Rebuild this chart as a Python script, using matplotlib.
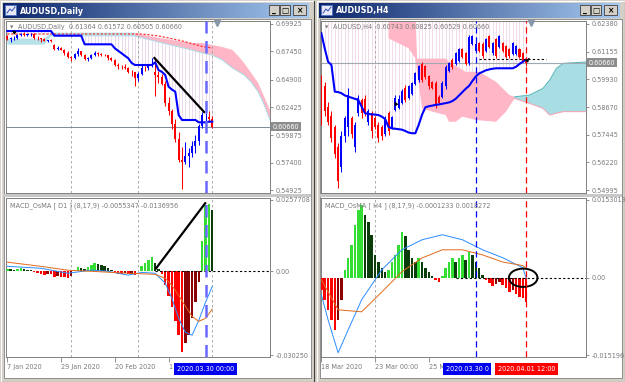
import numpy as np
import matplotlib.pyplot as plt
from matplotlib.patches import Rectangle, Ellipse
from matplotlib.colors import LinearSegmentedColormap
from matplotlib.transforms import blended_transform_factory

W, H = 625, 382

# ---------------- AUDUSD Daily (7 Jan 2020 .. 1 Apr 2020) ----------------
d_open = [0.6880, 0.6853, 0.6862, 0.6868, 0.6896, 0.6903, 0.6896, 0.6899, 0.6903, 0.6867,
          0.6862, 0.6855, 0.6840, 0.6845, 0.6800, 0.6767, 0.6772, 0.6760, 0.6730, 0.6690,
          0.6681, 0.6722, 0.6745, 0.6710, 0.6677, 0.6685, 0.6712, 0.6729, 0.6718, 0.6712,
          0.6710, 0.6684, 0.6667, 0.6622, 0.6605, 0.6600, 0.6595, 0.6561, 0.6555, 0.6508,
          0.6542, 0.6598, 0.6594, 0.6618, 0.6560, 0.6532, 0.6510, 0.6450, 0.6280, 0.6205,
          0.6085, 0.5950, 0.5767, 0.5747, 0.5801, 0.5826, 0.5891, 0.5932, 0.6067, 0.6150,
          0.6151, 0.61364]
d_high = [0.6897, 0.6875, 0.6880, 0.6905, 0.6915, 0.6920, 0.6905, 0.6915, 0.6907, 0.6880,
          0.6870, 0.6862, 0.6852, 0.6858, 0.6815, 0.6790, 0.6785, 0.6765, 0.6745, 0.6705,
          0.6730, 0.6774, 0.6750, 0.6717, 0.6690, 0.6720, 0.6750, 0.6740, 0.6730, 0.6725,
          0.6712, 0.6695, 0.6672, 0.6640, 0.6620, 0.6630, 0.6605, 0.6575, 0.6560, 0.6555,
          0.6620, 0.6610, 0.6630, 0.6685, 0.6685, 0.6570, 0.6545, 0.6480, 0.6330, 0.6225,
          0.6130, 0.6020, 0.5880, 0.5930, 0.5870, 0.5935, 0.5990, 0.6085, 0.6200, 0.6185,
          0.6210, 0.61572]
d_low = [0.6846, 0.6831, 0.6850, 0.6855, 0.6880, 0.6885, 0.6880, 0.6885, 0.6860, 0.6852,
         0.6830, 0.6835, 0.6830, 0.6830, 0.6755, 0.6760, 0.6755, 0.6710, 0.6683, 0.6660,
         0.6675, 0.6705, 0.6700, 0.6667, 0.6662, 0.6680, 0.6700, 0.6700, 0.6705, 0.6700,
         0.6670, 0.6660, 0.6612, 0.6585, 0.6585, 0.6590, 0.6550, 0.6525, 0.6434, 0.6480,
         0.6530, 0.6570, 0.6575, 0.6600, 0.6340, 0.6460, 0.6440, 0.6255, 0.6170, 0.6040,
         0.5930, 0.5750, 0.5506, 0.5730, 0.5700, 0.5790, 0.5830, 0.5900, 0.6050, 0.6100,
         0.6105, 0.60505]
d_close = [0.6853, 0.6862, 0.6868, 0.6896, 0.6903, 0.6896, 0.6899, 0.6903, 0.6867, 0.6862,
           0.6855, 0.6840, 0.6845, 0.6838, 0.6767, 0.6772, 0.6760, 0.6730, 0.6690, 0.6681,
           0.6722, 0.6745, 0.6710, 0.6677, 0.6685, 0.6712, 0.6729, 0.6718, 0.6712, 0.6710,
           0.6684, 0.6667, 0.6622, 0.6617, 0.6600, 0.6595, 0.6561, 0.6555, 0.6508, 0.6542,
           0.6598, 0.6594, 0.6618, 0.6627, 0.6532, 0.6510, 0.6450, 0.6280, 0.6205, 0.6085,
           0.5950, 0.5767, 0.5747, 0.5801, 0.5826, 0.5891, 0.5932, 0.6067, 0.6172, 0.6151,
           0.6136, 0.60660]
# blue base line (per bar)
d_base = [0.6929, 0.6929, 0.6929, 0.6929, 0.6929, 0.6929, 0.6929, 0.6929, 0.6929, 0.6929,
          0.6929, 0.6929, 0.6929, 0.6929, 0.6887, 0.6887, 0.6887, 0.6887, 0.6887, 0.6887,
          0.6887, 0.6887, 0.6887, 0.6809, 0.6809, 0.6809, 0.6809, 0.6809, 0.6809, 0.6809,
          0.6809, 0.6809, 0.6773, 0.6750, 0.6728, 0.6705, 0.6683, 0.6640, 0.6622, 0.6622,
          0.6622, 0.6622, 0.6622, 0.6622, 0.6646, 0.6577, 0.6560, 0.6532, 0.6426, 0.6400,
          0.6381, 0.6170, 0.6125, 0.6125, 0.6125, 0.6125, 0.6125, 0.6104, 0.6104, 0.6104,
          0.6110, 0.6110]
# red dashed line (per bar)
d_red = [0.6902, 0.6902, 0.6902, 0.6902, 0.6902, 0.6902, 0.6902, 0.6902, 0.6902, 0.6902,
         0.6902, 0.6902, 0.6902, 0.6902, 0.6902, 0.6902, 0.6902, 0.6902, 0.6902, 0.6902,
         0.6902, 0.6902, 0.6902, 0.6902, 0.6902, 0.6902, 0.6902, 0.6902, 0.6902, 0.6902,
         0.6902, 0.6902, 0.6902, 0.6902, 0.6902, 0.6902, 0.6902, 0.6902, 0.6902, 0.6902,
         0.6902, 0.6899, 0.6896, 0.6892, 0.6888, 0.6885, 0.6879, 0.6872, 0.6866, 0.6860,
         0.6853, 0.6847, 0.6840, 0.6832, 0.6823, 0.6815, 0.6807, 0.6798, 0.6790, 0.6785,
         0.6780, 0.6775]
# cloud outlines
d_cyan_i = [0, 11, 13, 38]
d_cyan_top = [0.6860, 0.6860, 0.6915, 0.6915]
d_cyan_bot = [0.6805, 0.6805, 0.6880, 0.6880]
d_pink_i = [38, 45, 55, 58, 61, 64, 67, 69, 70.5, 72.6, 74.7, 76.5, 78.2]
d_pink_top = [0.6911, 0.6866, 0.6821, 0.6821, 0.6803, 0.6785, 0.6758, 0.6694, 0.6640,
              0.6550, 0.6459, 0.6333, 0.6215]
d_pink_bot = [0.6884, 0.6830, 0.6757, 0.6731, 0.6712, 0.6667, 0.6595, 0.6559, 0.6532,
              0.6468, 0.6378, 0.6261, 0.6125]
d_trend_i = [43.8, 58.6]
d_trend_p = [0.6685, 0.6197]

# MACD_OsMA D1
d_osma = [0.0010, 0.0008, 0.0006, 0.0009, 0.0011, 0.0008, 0.0005, 0.0004, -0.0003, -0.0006,
          -0.0009, -0.0012, -0.0010, -0.0011, -0.0020, -0.0018, -0.0019, -0.0022, -0.0025, -0.0018,
          0.0005, 0.0015, 0.0012, 0.0008, 0.0014, 0.0022, 0.0030, 0.0028, 0.0024, 0.0020,
          0.0012, 0.0006, -0.0004, -0.0008, -0.0009, -0.0006, -0.0010, -0.0008, -0.0012, 0.0002,
          0.0020, 0.0030, 0.0040, 0.0050, 0.0030, 0.0010, -0.0010, -0.0050, -0.0090, -0.0130,
          -0.0180, -0.0230, -0.0290, -0.0260, -0.0230, -0.0170, -0.0110, -0.0040, 0.0110, 0.0240,
          0.0245, 0.0220]
d_macd_i = [0, 10, 18, 25, 30, 36, 40, 44, 47, 49, 51, 53, 55, 57, 59, 61]
d_macd = [0.0018, 0.0011, -0.0007, 0.0004, 0.0000, -0.0014, -0.0004, -0.0007, -0.0043,
          -0.0098, -0.0170, -0.0220, -0.0231, -0.0177, -0.0112, -0.0055]
d_sig_i = [0, 10, 18, 25, 36, 44, 47, 49, 51, 53, 55, 57, 59, 61]
d_sig = [0.0033, 0.0018, 0.0004, 0.0000, -0.0007, -0.0011, -0.0025, -0.0051, -0.0087,
         -0.0126, -0.0163, -0.0181, -0.0170, -0.0137]
d_mtrend_i = [44.3, 58.9]
d_mtrend_v = [0.0011, 0.0246]
d_time_pos = [0, 16, 32, 48]
d_time_lbl = ['7 Jan 2020', '29 Jan 2020', '20 Feb 2020', '1']

# ---------------- AUDUSD H4 (18 Mar 2020 08:00 .. 1 Apr 2020 12:00) ----------------
h_open = [0.5990, 0.5960, 0.5870, 0.5830, 0.5780, 0.5690, 0.5600, 0.5740, 0.5780, 0.5820,
          0.5690, 0.5840, 0.5900, 0.5905, 0.5800, 0.5840, 0.5820, 0.5790, 0.5780, 0.5750,
          0.5840, 0.5775, 0.5855, 0.5865, 0.5885, 0.5955, 0.5910, 0.5925, 0.5970, 0.5990,
          0.6060, 0.6050, 0.6005, 0.5980, 0.5975, 0.5915, 0.5915, 0.5960, 0.6030, 0.6080,
          0.6060, 0.6075, 0.6125, 0.6110, 0.6065, 0.6150, 0.6120, 0.6155, 0.6150, 0.6120,
          0.6185, 0.6110, 0.6170, 0.6135, 0.6155, 0.6140, 0.6125, 0.6105, 0.6105, 0.6125,
          0.6110, 0.60743]
h_high = [0.6011, 0.5980, 0.5890, 0.5850, 0.5790, 0.5710, 0.5760, 0.5830, 0.5952, 0.5830,
          0.5800, 0.5920, 0.5910, 0.5920, 0.5860, 0.5850, 0.5830, 0.5800, 0.5790, 0.5830,
          0.5850, 0.5830, 0.5920, 0.5920, 0.5950, 0.5965, 0.5965, 0.5980, 0.6025, 0.6055,
          0.6070, 0.6055, 0.6010, 0.5985, 0.5985, 0.5920, 0.5985, 0.6055, 0.6070, 0.6085,
          0.6115, 0.6130, 0.6130, 0.6115, 0.6189, 0.6189, 0.6160, 0.6160, 0.6160, 0.6175,
          0.6190, 0.6160, 0.6175, 0.6190, 0.6160, 0.6145, 0.6130, 0.6160, 0.6145, 0.6130,
          0.6115, 0.60825]
h_low = [0.5789, 0.5830, 0.5790, 0.5715, 0.5640, 0.5507, 0.5580, 0.5715, 0.5740, 0.5730,
         0.5670, 0.5830, 0.5820, 0.5830, 0.5790, 0.5730, 0.5770, 0.5715, 0.5720, 0.5740,
         0.5745, 0.5770, 0.5850, 0.5860, 0.5880, 0.5890, 0.5905, 0.5920, 0.5965, 0.5980,
         0.5980, 0.5995, 0.5950, 0.5950, 0.5865, 0.5880, 0.5910, 0.5950, 0.6025, 0.6040,
         0.6055, 0.6070, 0.6085, 0.6055, 0.6055, 0.6145, 0.6115, 0.6115, 0.6085, 0.6115,
         0.6130, 0.6100, 0.6085, 0.6130, 0.6115, 0.6085, 0.6085, 0.6100, 0.6100, 0.6085,
         0.6070, 0.60529]
h_close = [0.5810, 0.5850, 0.5800, 0.5730, 0.5660, 0.5540, 0.5740, 0.5820, 0.5920, 0.5750,
           0.5790, 0.5910, 0.5840, 0.5850, 0.5850, 0.5760, 0.5780, 0.5730, 0.5740, 0.5820,
           0.5760, 0.5825, 0.5910, 0.5905, 0.5940, 0.5900, 0.5960, 0.5975, 0.6020, 0.6050,
           0.5990, 0.6000, 0.5960, 0.5955, 0.5880, 0.5885, 0.5975, 0.6045, 0.6065, 0.6045,
           0.6110, 0.6125, 0.6090, 0.6060, 0.6180, 0.6185, 0.6150, 0.6120, 0.6095, 0.6170,
           0.6135, 0.6155, 0.6095, 0.6185, 0.6120, 0.6090, 0.6095, 0.6155, 0.6140, 0.6090,
           0.6075, 0.60660]
h_base = [0.6197, 0.6130, 0.6070, 0.6056, 0.5937, 0.5935, 0.5930, 0.5920, 0.5915, 0.5910,
          0.5905, 0.5900, 0.5870, 0.5841, 0.5838, 0.5836, 0.5835, 0.5833, 0.5826, 0.5815,
          0.5780, 0.5774, 0.5772, 0.5770, 0.5768, 0.5762, 0.5755, 0.5752, 0.5752, 0.5790,
          0.5835, 0.5868, 0.5872, 0.5875, 0.5878, 0.5880, 0.5883, 0.5886, 0.5889, 0.5895,
          0.5905, 0.5920, 0.5935, 0.5950, 0.5963, 0.5985, 0.6005, 0.6018, 0.6025, 0.6032,
          0.6036, 0.6039, 0.6041, 0.6041, 0.6041, 0.6041, 0.6041, 0.6041, 0.6048, 0.6060,
          0.6070, 0.6080]
h_pink_top_i = [20, 28, 28.5, 37, 38, 43, 47, 52, 56, 57.5]
h_pink_top = [0.6300, 0.6300, 0.6084, 0.6084, 0.6070, 0.6025, 0.6025, 0.5981, 0.5922, 0.5914]
h_pink_bot_i = [20, 23, 26, 28, 29, 30, 33, 37, 38, 40, 42, 46, 52, 55, 57.5]
h_pink_bot = [0.6174, 0.6152, 0.6130, 0.6085, 0.5967, 0.5863, 0.5848, 0.5833, 0.5803, 0.5803,
              0.5826, 0.5811, 0.5803, 0.5848, 0.5907]
h_cyan_i = [57.5, 62, 66, 68, 70, 72, 80]
h_cyan_top = [0.5914, 0.5922, 0.5952, 0.5989, 0.6041, 0.6063, 0.6070]
h_cyan_bot = [0.5907, 0.5885, 0.5863, 0.5833, 0.5841, 0.5848, 0.5848]
h_level = 0.6082

# MACD_OsMA H4
h_osma = [-0.00236, -0.00433, -0.00630, -0.00826, -0.01023, -0.00826, -0.00433, 0.00157, 0.00394, 0.00649,
          0.01043, 0.01338, 0.01436, 0.01240, 0.01102, 0.00846, 0.00453, 0.00315, 0.00197, 0.00118,
          0.00157, 0.00315, 0.00453, 0.00649, 0.00905, 0.00826, 0.00551, 0.00394, 0.00315, 0.00394,
          0.00315, 0.00197, 0.00118, 0.00039, -0.00039, -0.00079, 0.00039, 0.00197, 0.00315, 0.00394,
          0.00315, 0.00394, 0.00453, 0.00354, 0.00512, 0.00453, 0.00315, 0.00197, 0.00059, -0.00039,
          -0.00098, -0.00157, -0.00118, -0.00079, -0.00138, -0.00197, -0.00275, -0.00236, -0.00315, -0.00374,
          -0.00394, -0.00472]
h_macd_i = [0, 2, 5, 8, 12, 18, 24, 30, 36, 42, 48, 54, 60, 61]
h_macd = [-0.00334, -0.00826, -0.01476, -0.01023, -0.00433, 0.00157, 0.00551, 0.00748, 0.00846,
          0.00748, 0.00551, 0.00394, 0.00197, -0.00012]
h_sig_i = [0, 5, 12, 18, 24, 30, 36, 42, 48, 54, 60, 61]
h_sig = [-0.00039, -0.0063, -0.0067, -0.0028, 0.0012, 0.0039, 0.0055, 0.0055, 0.0045, 0.0031,
         0.0024, 0.0018]
h_time_pos = [0, 16, 32]
h_time_lbl = ['18 Mar 2020', '23 Mar 00:00', '25 M']

GRAY = '#808080'
LBL = '#7a7a7a'
FS = 4.7

fig = plt.figure(figsize=(W / 100, H / 100), dpi=100)
fig.patch.set_facecolor('#d4d0c8')


def px_axes(x0, y0, x1, y1, z=1):
    ax = fig.add_axes([x0 / W, 1 - y1 / H, (x1 - x0) / W, (y1 - y0) / H])
    ax.set_zorder(z)
    return ax


# ---- window chrome ----
chrome = px_axes(0, 0, W, H, z=0)
chrome.set_xlim(0, W)
chrome.set_ylim(H, 0)
chrome.axis('off')
title_cmap = LinearSegmentedColormap.from_list('tb', ['#0a246a', '#a6caf0'])
grad = np.linspace(0, 1, 256)[None, :]

for (wx0, wx1, title) in [(0, 314, 'AUDUSD,Daily'), (316, 625, 'AUDUSD,H4')]:
    chrome.add_patch(Rectangle((wx0, 0), wx1 - wx0, H, fc='#d4d0c8', ec='none'))
    chrome.plot([wx0 + 0.5, wx0 + 0.5, wx1 - 1], [H - 1, 0.5, 0.5], color='white', lw=0.8)
    chrome.plot([wx0 + 0.5, wx1 - 0.5, wx1 - 0.5], [H - 0.5, H - 0.5, 0.5], color='#404040', lw=0.8)
    chrome.imshow(grad, cmap=title_cmap, extent=(wx0 + 3, wx1 - 5, 18, 3), aspect='auto', zorder=1)
    # icon
    chrome.add_patch(Rectangle((wx0 + 5, 5), 11, 10, fc='#e8e8f8', ec='#5070c0', lw=0.6, zorder=2))
    chrome.plot([wx0 + 7, wx0 + 10, wx0 + 12, wx0 + 15], [13, 9, 11, 7], color='#3050b0', lw=0.7, zorder=3)
    chrome.text(wx0 + 20, 11, title, color='white', fontsize=5.8, fontweight='bold',
                va='center', ha='left', zorder=3)
    # buttons
    for bx0, bx1, glyph in [(wx1 - 45, wx1 - 35, '_'), (wx1 - 34, wx1 - 24, '□'), (wx1 - 21, wx1 - 8, '×')]:
        chrome.add_patch(Rectangle((bx0, 5), bx1 - bx0, 10, fc='#d4d0c8', ec='#404040', lw=0.6, zorder=2))
        chrome.text((bx0 + bx1) / 2, 10.3, glyph, fontsize=5.5, fontweight='bold', ha='center',
                    va='center', color='black', zorder=3)
    # client area
    chrome.add_patch(Rectangle((wx0 + 4, 19), wx1 - wx0 - 7, 359, fc='white', ec='#808080', lw=0.6, zorder=1))
    chrome.add_patch(Rectangle((wx0 + 4, 194), wx1 - wx0 - 7, 3, fc='#c8c8c8', ec='none', zorder=2))


def style_panel(ax, xlim, ylim, yticks, ylabels):
    ax.set_xlim(*xlim)
    ax.set_ylim(*ylim)
    ax.set_facecolor('white')
    for s in ax.spines.values():
        s.set_color(GRAY)
        s.set_linewidth(0.7)
    ax.yaxis.tick_right()
    ax.set_yticks(yticks)
    ax.set_yticklabels(ylabels)
    ax.tick_params(axis='y', length=2.5, width=0.6, color=GRAY, labelsize=FS, labelcolor=LBL, pad=1.5)
    ax.set_xticks([])


def candles(ax, o, h, l, c):
    idx = np.arange(len(o))
    o, h, l, c = map(np.asarray, (o, h, l, c))
    col = np.where(c >= o, '#0000ff', '#ff0000')
    ax.vlines(idx, l, h, colors=col, lw=0.75, zorder=4)
    ax.bar(idx, c - o, bottom=o, width=0.6, color=col, zorder=4)


def osma_bars(ax, vals):
    vals = np.asarray(vals)
    prev = np.concatenate([[vals[0]], vals[:-1]])
    col = []
    for v, p in zip(vals, prev):
        if v >= 0:
            col.append('#33dd33' if v >= p else '#0b3d0b')
        else:
            col.append('#ff0000' if v <= p else '#8b0000')
    ax.bar(np.arange(len(vals)), vals, width=0.75, color=col, zorder=3)


def price_tag(ax, price, text):
    tr = blended_transform_factory(ax.transAxes, ax.transData)
    ax.text(1.01, price, text, transform=tr, ha='left', va='center', fontsize=FS, color='white',
            bbox=dict(boxstyle='square,pad=0.25', fc='#8c8c8c', ec='none'), clip_on=False, zorder=10)


def date_tag(ax, i, text, fc, ha='center'):
    tr = blended_transform_factory(ax.transData, ax.transAxes)
    ax.text(i, -0.078, text, transform=tr, ha=ha, va='center', fontsize=FS, color='white',
            bbox=dict(boxstyle='square,pad=0.45', fc=fc, ec='none'), clip_on=False, zorder=10)


def time_axis(ax, pos, labels):
    ax.set_xticks(pos)
    ax.set_xticklabels(labels)
    ax.tick_params(axis='x', length=3.5, width=0.6, color=GRAY, labelsize=FS, labelcolor=LBL, pad=1.5)
    for t in ax.get_xticklabels():
        t.set_ha('left')


# ================= LEFT: Daily =================
lx = (-0.4, 78.2)
axd = px_axes(6, 21, 270, 193, z=2)
style_panel(axd, lx, (0.54654, 0.70196),
            [0.69925, 0.67450, 0.64900, 0.62425, 0.59875, 0.57400, 0.54925],
            ['0.69925', '0.67450', '0.64900', '0.62425', '0.59875', '0.57400', '0.54925'])
idx_d = np.arange(len(d_open))
axd.vlines(idx_d, d_base, d_red, colors='#ead2ea', lw=0.6, zorder=1)
axd.fill(list(d_cyan_i) + d_cyan_i[::-1], d_cyan_top + d_cyan_bot[::-1], fc='#b8e2ea', ec='none', zorder=1)
axd.fill(list(d_pink_i) + d_pink_i[::-1], d_pink_top + d_pink_bot[::-1], fc='#ffb6c6', ec='none', zorder=1)
axd.plot(d_pink_i, d_pink_bot, color='#a8dce6', lw=0.7, zorder=1)
for gx in [19, 39, 61]:
    axd.axvline(gx, color='#a0a0a0', lw=0.6, ls=(0, (3, 3)), zorder=2)
axd.axhline(0.6066, color='#7b8a99', lw=0.7, zorder=2)
axd.plot(idx_d, d_red, color='#ff2020', lw=0.8, ls=(0, (2, 1.5)), zorder=3)
candles(axd, d_open, d_high, d_low, d_close)
axd.plot(idx_d, d_base, color='#0000ff', lw=1.5, zorder=5)
axd.plot(d_trend_i, d_trend_p, color='black', lw=1.6, zorder=6)
axd.axvline(59, color='#6868ff', lw=1.8, ls=(0, (5, 3)), zorder=6)
axd.text(0.047, 0.965, 'AUDUSD,Daily  0.61364 0.61572 0.60505 0.60660', transform=axd.transAxes,
         fontsize=FS, color=LBL, ha='left', va='center', zorder=7)
axd.text(0.022, 0.962, '▼', transform=axd.transAxes, fontsize=3.2, color=LBL, ha='center', va='center', zorder=7)
axd.plot([62.5], [0.6999], marker='v', ms=4, color='#8898a8', clip_on=False, zorder=7)
axd.annotate('', xy=(1.4, 0.6935), xytext=(2.6, 0.6905),
             arrowprops=dict(arrowstyle='-|>', color='black', lw=1.0, mutation_scale=4), zorder=7)
price_tag(axd, 0.6066, '0.60660')

axdm = px_axes(6, 198, 270, 357, z=2)
style_panel(axdm, lx, (-0.0309728, 0.0264936), [0.0257708, 0.0, -0.030250],
            ['0.0257708', '0.00', '-0.030250'])
for gx in [19, 39, 61]:
    axdm.axvline(gx, color='#a0a0a0', lw=0.6, ls=(0, (3, 3)), zorder=1)
osma_bars(axdm, d_osma)
axdm.plot(d_macd_i, d_macd, color='#2a8cff', lw=0.7, zorder=4)
axdm.plot(d_sig_i, d_sig, color='#e06a1a', lw=0.7, zorder=4)
axdm.plot([44, 78.2], [0, 0], color='black', lw=0.8, ls=(0, (2, 2)), zorder=4)
axdm.plot(d_mtrend_i, d_mtrend_v, color='black', lw=1.6, zorder=5)
axdm.axvline(59, color='#6868ff', lw=1.8, ls=(0, (5, 3)), zorder=6)
axdm.text(0.015, 0.95, 'MACD_OsMA [ D1 ] (8,17,9) -0.0055347 -0.0136956', transform=axdm.transAxes,
          fontsize=FS, color=LBL, ha='left', va='center', zorder=7)
time_axis(axdm, d_time_pos, d_time_lbl)
date_tag(axdm, 59, '2020.03.30 00:00', '#0000ee')

# ================= RIGHT: H4 =================
rx = (-0.1, 78.8)
axh = px_axes(321, 21, 586, 193, z=2)
style_panel(axh, rx, (0.54862, 0.62513),
            [0.62380, 0.61155, 0.59930, 0.58670, 0.57445, 0.56220, 0.54995],
            ['0.62380', '0.61155', '0.59930', '0.58670', '0.57445', '0.56220', '0.54995'])
idx_h = np.arange(len(h_open))
axh.vlines(idx_h, h_base, 0.6300, colors='#f0d4e6', lw=0.6, zorder=1)
axh.fill(list(h_pink_top_i) + h_pink_bot_i[::-1], h_pink_top + h_pink_bot[::-1], fc='#ffb6c6', ec='none', zorder=1)
axh.fill(list(h_cyan_i) + h_cyan_i[::-1], h_cyan_top + h_cyan_bot[::-1], fc='#a9dde4', ec='none', zorder=1)
axh.plot(h_cyan_i, h_cyan_top, color='#5ab8b8', lw=0.7, zorder=1)
axh.plot(h_cyan_i, h_cyan_bot, color='#f4a0b0', lw=0.7, zorder=1)
axh.axvline(16, color='#a0a0a0', lw=0.6, ls=(0, (3, 3)), zorder=2)
axh.axhline(0.6066, color='#a0a8b0', lw=0.8, zorder=2)
candles(axh, h_open, h_high, h_low, h_close)
axh.plot(idx_h, h_base, color='#0000ff', lw=1.5, zorder=5)
axh.plot([47, 67], [h_level, h_level], color='black', lw=0.8, ls=(0, (2, 2)), zorder=6)
axh.axvline(46, color='#0000ff', lw=0.9, ls=(0, (5, 3)), zorder=6)
axh.axvline(61, color='#ff0000', lw=0.9, ls=(0, (5, 3)), zorder=6)
axh.text(0.047, 0.965, 'AUDUSD,H4  0.60743 0.60825 0.60529 0.60660', transform=axh.transAxes,
         fontsize=FS, color=LBL, ha='left', va='center', zorder=7)
axh.text(0.022, 0.962, '▼', transform=axh.transAxes, fontsize=3.2, color=LBL, ha='center', va='center', zorder=7)
axh.plot([62.5], [0.6243], marker='v', ms=4, color='#8898a8', clip_on=False, zorder=7)
axh.annotate('', xy=(21.5, 0.5905), xytext=(22.6, 0.5870),
             arrowprops=dict(arrowstyle='-|>', color='black', lw=1.0, mutation_scale=4), zorder=7)
axh.annotate('', xy=(62.5, 0.6095), xytext=(61.3, 0.6075),
             arrowprops=dict(arrowstyle='-|>', color='black', lw=1.0, mutation_scale=4), zorder=7)
price_tag(axh, 0.6066, '0.60660')

axhm = px_axes(321, 198, 586, 357, z=2)
style_panel(axhm, rx, (-0.0155896, 0.0156954), [0.0153019, 0.0, -0.0151961],
            ['0.0153019', '0.00', '-0.0151961'])
axhm.axvline(16, color='#a0a0a0', lw=0.6, ls=(0, (3, 3)), zorder=1)
osma_bars(axhm, h_osma)
axhm.plot(h_macd_i, h_macd, color='#2a8cff', lw=0.7, zorder=4)
axhm.plot(h_sig_i, h_sig, color='#e06a1a', lw=0.7, zorder=4)
axhm.plot([40, 78.8], [0, 0], color='black', lw=0.8, ls=(0, (2, 2)), zorder=4)
axhm.add_patch(Ellipse((60.1, 0.0), 8.5, 0.0036, fc='none', ec='black', lw=1.4, zorder=6))
axhm.axvline(46, color='#0000ff', lw=0.9, ls=(0, (5, 3)), zorder=6)
axhm.axvline(61, color='#ff0000', lw=0.9, ls=(0, (5, 3)), zorder=6)
axhm.text(0.015, 0.95, 'MACD_OsMA [ H4 ] (8,17,9) -0.0001233 0.0018272', transform=axhm.transAxes,
          fontsize=FS, color=LBL, ha='left', va='center', zorder=7)
time_axis(axhm, h_time_pos, h_time_lbl)
# blue tag is partly hidden behind the red one in the terminal; show its visible part
date_tag(axhm, 37.0, '2020.03.30 0', '#0000ee', ha='left')
date_tag(axhm, 61, '2020.04.01 12:00', '#ff0000')

fig.savefig('out.png', dpi=100, facecolor=fig.get_facecolor())
